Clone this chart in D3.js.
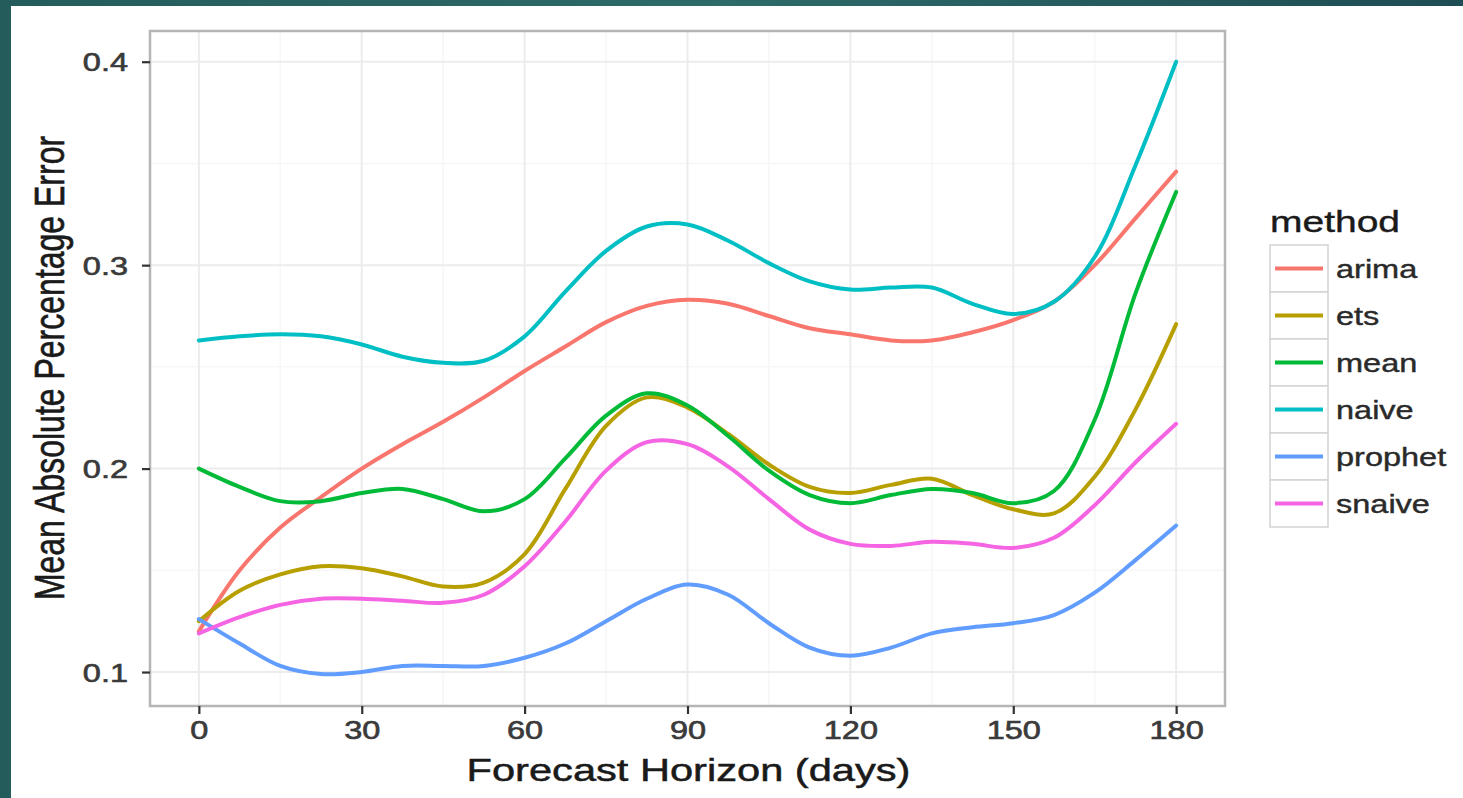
<!DOCTYPE html>
<html><head><meta charset="utf-8">
<script src="https://cdn.jsdelivr.net/npm/d3@7"></script>
<style>
body{margin:0;overflow:hidden;background:#fff}
svg{display:block}
text{font-family:"Liberation Sans",Arial,Helvetica,sans-serif}
</style>
</head><body>
<svg id="c" width="1463" height="798"></svg>
<script>
// ---- data ----
const days = [0,7.5,15,22.5,30,37.5,45,52.5,60,67.5,75,82.5,90,97.5,105,112.5,120,127.5,135,142.5,150,157.5,165,172.5,180];
const methods = ["arima","ets","mean","naive","prophet","snaive"];
const arima   = [0.120,0.150,0.171,0.186,0.200,0.212,0.223,0.235,0.248,0.260,0.272,0.280,0.283,0.281,0.275,0.269,0.266,0.263,0.263,0.267,0.273,0.282,0.300,0.323,0.346];
const ets     = [0.125,0.140,0.148,0.152,0.151,0.147,0.142,0.144,0.158,0.190,0.221,0.235,0.230,0.217,0.202,0.191,0.188,0.192,0.195,0.187,0.180,0.178,0.196,0.229,0.271];
const mean    = [0.200,0.191,0.184,0.184,0.188,0.190,0.185,0.179,0.185,0.205,0.226,0.237,0.231,0.216,0.199,0.187,0.183,0.187,0.190,0.188,0.183,0.189,0.224,0.286,0.336];
const naive   = [0.263,0.265,0.266,0.265,0.261,0.255,0.252,0.253,0.265,0.287,0.307,0.319,0.320,0.312,0.301,0.292,0.288,0.289,0.289,0.281,0.276,0.282,0.304,0.349,0.400];
const prophet = [0.126,0.114,0.103,0.099,0.100,0.103,0.103,0.103,0.107,0.114,0.125,0.136,0.143,0.138,0.124,0.112,0.108,0.112,0.119,0.122,0.124,0.128,0.139,0.155,0.172];
const snaive  = [0.119,0.127,0.133,0.136,0.136,0.135,0.134,0.138,0.152,0.174,0.199,0.213,0.212,0.201,0.185,0.170,0.163,0.162,0.164,0.163,0.161,0.166,0.182,0.203,0.222];
const seriesValues = {arima, ets, mean, naive, prophet, snaive};
const colors = ["#F8766D","#B79F00","#00BA38","#00BFC4","#619CFF","#F564E3"];
const xTicks = [0,30,60,90,120,150,180];
const xMinor = [15,45,75,105,135,165];
const yTicks = [0.1,0.2,0.3,0.4];
const yMinor = [0.15,0.25,0.35];
const xTitle = "Forecast Horizon (days)";
const yTitle = "Mean Absolute Percentage Error";
const legendTitle = "method";

// ---- layout ----
const svg = d3.select("#c");
const W = 1463, H = 798;
const SX = 1.3; // horizontal stretch of the reference image
const P = {l:150, r:1225, t:31, b:706};

// background frame
const defs = svg.append("defs");
const g1 = defs.append("linearGradient").attr("id","bg").attr("x1","0").attr("x2","1").attr("y1","0").attr("y2","0");
g1.append("stop").attr("offset","0").attr("stop-color","#245c5c");
g1.append("stop").attr("offset","0.5").attr("stop-color","#2d6a68");
g1.append("stop").attr("offset","1").attr("stop-color","#1e4c54");
svg.append("rect").attr("width",W).attr("height",H).attr("fill","url(#bg)");
svg.append("rect").attr("x",11).attr("y",6).attr("width",W-11).attr("height",H-6).attr("fill","#fff");

const x = d3.scaleLinear().domain([-9,189]).range([P.l,P.r]);
const y = d3.scaleLinear().domain([0.0833,0.4151]).range([P.b,P.t]);

// panel
svg.append("rect").attr("x",P.l).attr("y",P.t).attr("width",P.r-P.l).attr("height",P.b-P.t).attr("fill","#fff");
const grid = svg.append("g");
grid.selectAll(".vm").data(xMinor).join("line").attr("x1",d=>x(d)).attr("x2",d=>x(d)).attr("y1",P.t).attr("y2",P.b).attr("stroke","#f7f7f7").attr("stroke-width",1.5);
grid.selectAll(".hm").data(yMinor).join("line").attr("y1",d=>y(d)).attr("y2",d=>y(d)).attr("x1",P.l).attr("x2",P.r).attr("stroke","#f7f7f7").attr("stroke-width",1.5);
grid.selectAll(".vM").data(xTicks).join("line").attr("x1",d=>x(d)).attr("x2",d=>x(d)).attr("y1",P.t).attr("y2",P.b).attr("stroke","#ececec").attr("stroke-width",2);
grid.selectAll(".hM").data(yTicks).join("line").attr("y1",d=>y(d)).attr("y2",d=>y(d)).attr("x1",P.l).attr("x2",P.r).attr("stroke","#ececec").attr("stroke-width",2);

// lines
const line = d3.line().x(d=>x(d[0])).y(d=>y(d[1])).curve(d3.curveCatmullRom.alpha(0.5));
methods.forEach((m,i)=>{
  const pts = days.map((d,j)=>[d, seriesValues[m][j]]);
  svg.append("path").datum(pts).attr("d",line).attr("fill","none")
    .attr("stroke",colors[i]).attr("stroke-width",4).attr("stroke-linecap","round").attr("stroke-linejoin","round");
});

// panel border
svg.append("rect").attr("x",P.l).attr("y",P.t).attr("width",P.r-P.l).attr("height",P.b-P.t)
  .attr("fill","none").attr("stroke","#b5b5b5").attr("stroke-width",2.5);

// axes
const xa = svg.append("g").attr("transform",`translate(0,${P.b})`)
  .call(d3.axisBottom(x).tickValues(xTicks).tickSize(8).tickFormat(d3.format("d")));
xa.select(".domain").remove();
xa.selectAll(".tick line").attr("stroke","#333").attr("stroke-width",2.2);
xa.selectAll(".tick text").attr("y",33).attr("dy",0).attr("transform",`scale(${SX},1)`)
  .attr("fill","#3a3a3a").attr("stroke","#3a3a3a").attr("stroke-width",0.6)
  .style("font-size","25px").style("font-family","'Liberation Sans',Arial,sans-serif");

const ya = svg.append("g").attr("transform",`translate(${P.l},0)`)
  .call(d3.axisLeft(y).tickValues(yTicks).tickSize(8).tickFormat(d3.format(".1f")));
ya.select(".domain").remove();
ya.selectAll(".tick line").attr("stroke","#333").attr("stroke-width",2.2);
ya.selectAll(".tick text").attr("x",-22/SX).attr("dy","0.36em").attr("transform",`scale(${SX},1)`)
  .attr("fill","#3a3a3a").attr("stroke","#3a3a3a").attr("stroke-width",0.6)
  .style("font-size","25px").style("font-family","'Liberation Sans',Arial,sans-serif");

// titles
svg.append("text").attr("transform",`translate(${(P.l+P.r)/2+1},781) scale(${SX},1)`)
  .attr("text-anchor","middle").attr("fill","#1a1a1a").attr("stroke","#1a1a1a").attr("stroke-width",0.5)
  .style("font-size","32px").text(xTitle);
svg.append("text").attr("transform",`translate(64,368) scale(${SX},1) rotate(-90)`)
  .attr("text-anchor","middle").attr("fill","#1a1a1a").attr("stroke","#1a1a1a").attr("stroke-width",0.5)
  .style("font-size","32px").text(yTitle);

// legend
const lg = svg.append("g");
lg.append("text").attr("transform",`translate(1270,232) scale(${SX},1)`)
  .attr("fill","#1a1a1a").attr("stroke","#1a1a1a").attr("stroke-width",0.4)
  .style("font-size","30px").text(legendTitle);
const keyTop = 245, keyH = 47, keyX = 1270, keyW = 58;
const items = lg.selectAll(".it").data(methods).join("g")
  .attr("transform",(d,i)=>`translate(${keyX},${keyTop+i*keyH})`);
items.append("rect").attr("width",keyW).attr("height",keyH).attr("fill","#fff").attr("stroke","#d3d3d3").attr("stroke-width",1.5);
items.append("line").attr("x1",5).attr("x2",keyW-5).attr("y1",keyH/2).attr("y2",keyH/2)
  .attr("stroke",(d,i)=>colors[i]).attr("stroke-width",4);
items.append("text").attr("transform",`translate(${keyW+8},${keyH/2+9}) scale(${SX},1)`)
  .attr("fill","#2a2a2a").attr("stroke","#2a2a2a").attr("stroke-width",0.4)
  .style("font-size","25px").text(d=>d);
</script>
</body></html>
